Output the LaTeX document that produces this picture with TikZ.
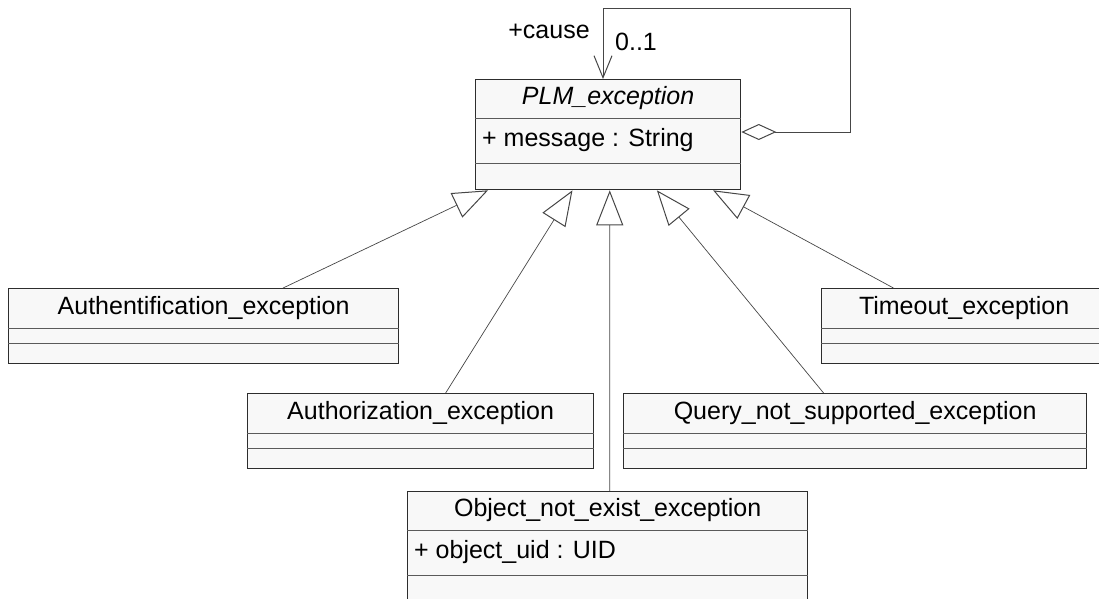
\documentclass[tikz,border=0pt]{standalone}
\usepackage{fontspec}
\setmainfont{Liberation Sans}
\usetikzlibrary{arrows.meta,positioning,calc}
\definecolor{boxfill}{RGB}{248,248,248}
\definecolor{boxline}{RGB}{45,45,45}
\definecolor{divline}{RGB}{90,90,90}
\definecolor{linkline}{RGB}{70,70,70}
\newcommand{\umlfont}{\fontsize{25}{29}\selectfont}

% one class box: name, x, y, width, header, attributes, operations, title, attribute text
\newcommand{\umlclass}[9]{%
  \node[umlbox, minimum width=#4pt, minimum height=#5pt+#6pt+#7pt] (#1) at (#2,#3) {};
  \node[umltitle] (#1-title) at ($(#1.north)+(0,#5/2)$) {#8};
  \node[umlattr] (#1-attr) at ($(#1.north west)+(7,#5+#6/2)$) {#9};
  \draw[divider] ($(#1.north west)+(0,#5)$) -- ($(#1.north east)+(0,#5)$);
  \draw[divider] ($(#1.north west)+(0,#5+#6)$) -- ($(#1.north east)+(0,#5+#6)$);
}

\tikzset{
  umlbox/.style={draw=boxline, fill=boxfill, line width=1.3pt, inner sep=0pt, anchor=north west},
  umltitle/.style={font=\umlfont, inner sep=0pt},
  umlattr/.style={font=\umlfont, inner sep=0pt, anchor=west},
  divider/.style={draw=divline, line width=1pt},
  inherit/.style={draw=linkline, line width=0.7pt, -{Triangle[open,length=35pt,width=27pt,line width=1pt]}},
  assoc/.style={draw=linkline, line width=0.7pt},
  rolelabel/.style={font=\umlfont, inner sep=0pt}
}

\begin{document}
\begin{tikzpicture}[x=1pt,y=-1pt]
  \useasboundingbox (0,0) rectangle (1099,598);

  % classes
  \umlclass{plm}{475}{79}{265}{39}{45}{26}{\itshape PLM\_exception}{+ message : String}
  \umlclass{authent}{8}{288}{390}{40}{15}{20}{Authentification\_exception}{}
  \umlclass{timeout}{821}{288}{285}{40}{15}{20}{Timeout\_exception}{}
  \umlclass{authoriz}{247}{393}{346}{40}{15}{20}{Authorization\_exception}{}
  \umlclass{query}{623}{393}{463}{40}{15}{20}{Query\_not\_supported\_exception}{}
  \umlclass{objnot}{407}{491}{400}{39}{45}{26}{Object\_not\_exist\_exception}{+ object\_uid : UID}

  % generalizations
  \draw[inherit] ($(authent.north west)!0.703!(authent.north east)$) -- ($(plm.south west)!0.049!(plm.south east)$);
  \draw[inherit] ($(authoriz.north west)!0.572!(authoriz.north east)$) -- ($(plm.south west)!0.366!(plm.south east)$);
  \draw[inherit] ($(objnot.north west)!0.505!(objnot.north east)$) -- ($(plm.south west)!0.506!(plm.south east)$);
  \draw[inherit] ($(query.north west)!0.432!(query.north east)$) -- ($(plm.south west)!0.683!(plm.south east)$);
  \draw[inherit] ($(timeout.north west)!0.253!(timeout.north east)$) -- ($(plm.south west)!0.894!(plm.south east)$);

  % self aggregation
  \coordinate (loopcorner) at (850,8);
  \draw[assoc, {Diamond[open,length=35pt,width=16pt,line width=1pt]}-{Straight Barb[length=22pt,width=18pt,line width=1pt]}]
    ($(plm.north east)+(0,53)$) -| (loopcorner) -| ($(plm.north west)+(128,0)$);
  \node[rolelabel] (cause) at (549,31) {+cause};
  \node[rolelabel] (mult) at (636,42) {0..1};
\end{tikzpicture}
\end{document}
